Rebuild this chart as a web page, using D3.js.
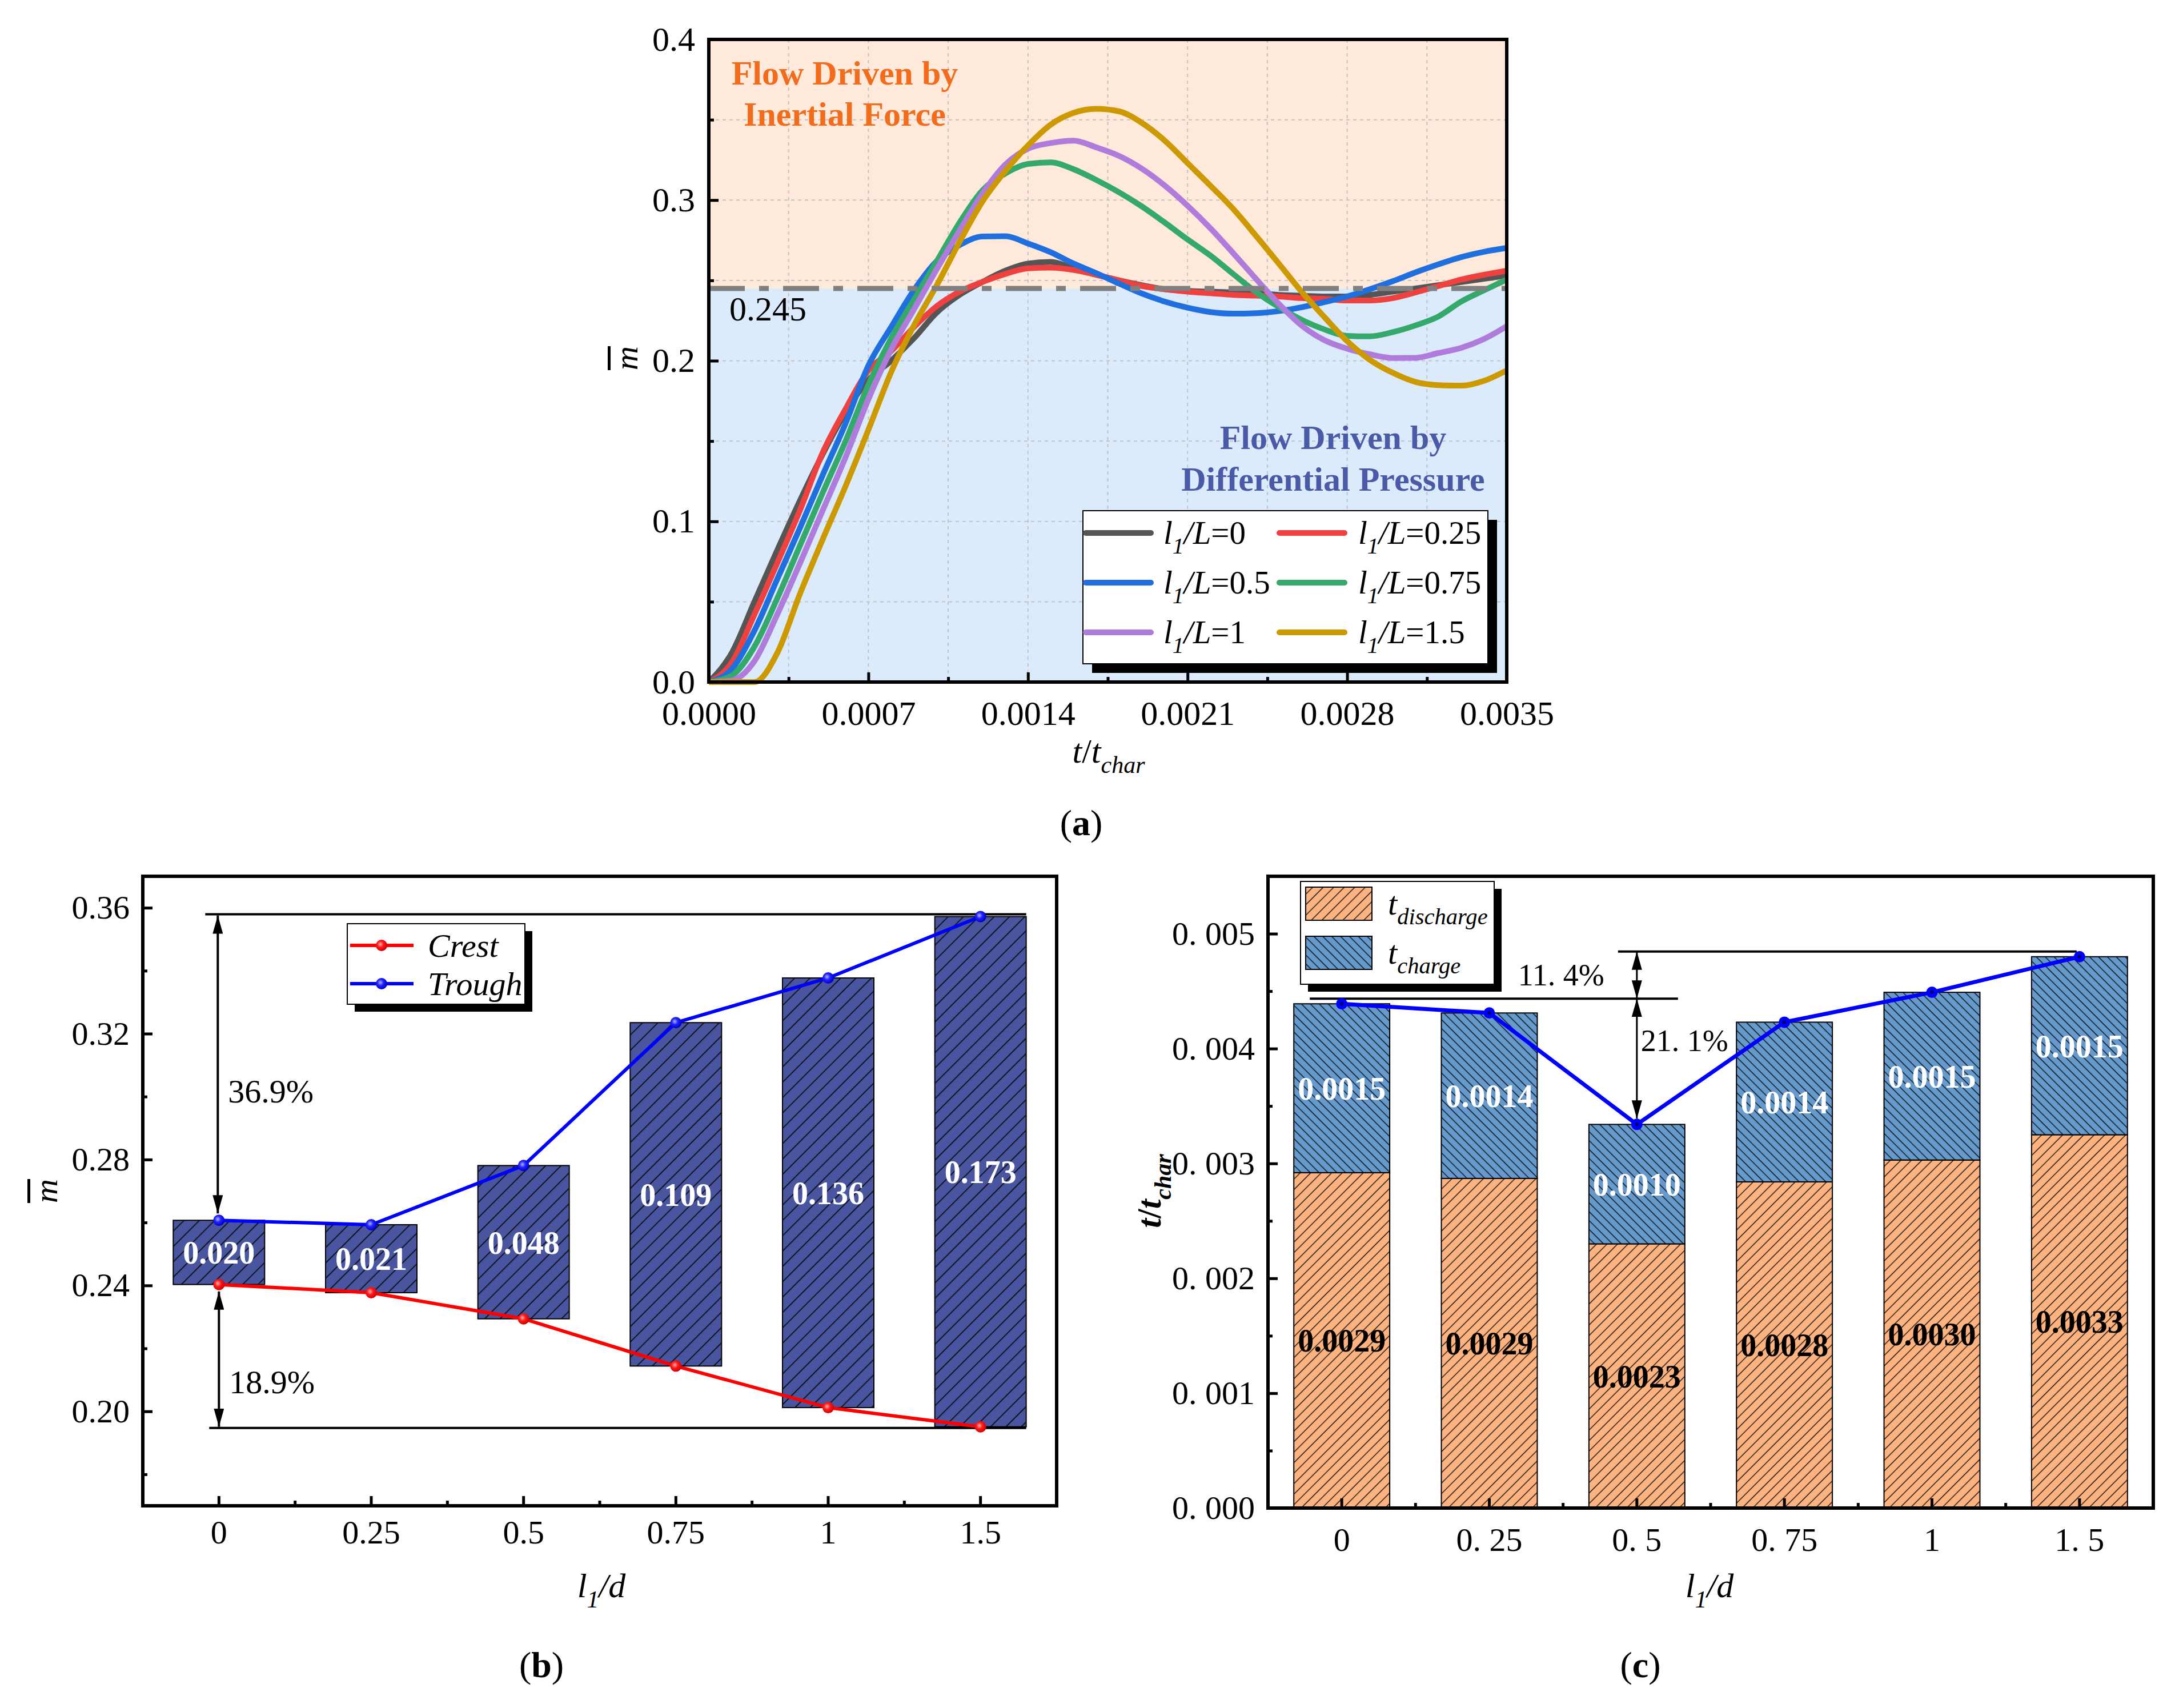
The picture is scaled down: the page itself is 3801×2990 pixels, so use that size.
<!DOCTYPE html>
<html>
<head>
<meta charset="utf-8">
<script src="https://cdn.jsdelivr.net/npm/d3@7"></script>
<style>
  body { margin: 0; background: #fff; }
</style>
</head>
<body>
<script>
// ---------- data: panel (a) ----------
const tValues = [0, 0.0001, 0.0002, 0.0003, 0.0004, 0.0005, 0.0006, 0.0007, 0.0008, 0.0009,
  0.0010, 0.0011, 0.0012, 0.0013, 0.0014, 0.0015, 0.0016, 0.0017, 0.0018, 0.0019,
  0.0020, 0.0021, 0.0022, 0.0023, 0.0024, 0.0025, 0.0026, 0.0027, 0.0028, 0.0029,
  0.0030, 0.0031, 0.0032, 0.0033, 0.0034, 0.0035];
const m_L0 = [0, 0.018, 0.05, 0.082, 0.113, 0.142, 0.168, 0.188, 0.200, 0.214, 0.230, 0.241, 0.249, 0.256, 0.2605, 0.2615,
  0.2575, 0.2535, 0.250, 0.247, 0.2445, 0.2435, 0.243, 0.2425, 0.242, 0.241, 0.2405, 0.240, 0.240, 0.241, 0.243, 0.245, 0.247, 0.249, 0.251, 0.253];
const m_L025 = [0, 0.012, 0.042, 0.074, 0.107, 0.143, 0.170, 0.194, 0.206, 0.221, 0.234, 0.243, 0.249, 0.254, 0.2575, 0.258,
  0.2565, 0.2535, 0.250, 0.2465, 0.2445, 0.243, 0.242, 0.241, 0.2405, 0.240, 0.239, 0.2385, 0.2375, 0.2375, 0.239, 0.2425, 0.2465, 0.2505, 0.2535, 0.256];
const m_L05 = [0, 0.008, 0.032, 0.064, 0.096, 0.129, 0.161, 0.197, 0.221, 0.244, 0.262, 0.272, 0.2773, 0.2775, 0.273, 0.2675,
  0.2605, 0.2545, 0.248, 0.2418, 0.2368, 0.233, 0.2303, 0.2293, 0.2296, 0.2309, 0.2333, 0.2365, 0.240, 0.2445, 0.2495, 0.255, 0.260, 0.2645, 0.2678, 0.2702];
const m_L075 = [0, 0.004, 0.022, 0.052, 0.085, 0.118, 0.150, 0.185, 0.214, 0.238, 0.262, 0.286, 0.306, 0.3165, 0.3225, 0.3235,
  0.3192, 0.3125, 0.3048, 0.296, 0.286, 0.2755, 0.2655, 0.254, 0.2428, 0.2335, 0.2255, 0.2195, 0.2155, 0.2152, 0.2178, 0.222, 0.2275, 0.2368, 0.2438, 0.2505];
const m_L1 = [0, 0.001, 0.013, 0.042, 0.074, 0.107, 0.140, 0.176, 0.207, 0.232, 0.257, 0.281, 0.304, 0.322, 0.332, 0.3355,
  0.3370, 0.3328, 0.3275, 0.3195, 0.309, 0.2965, 0.2825, 0.267, 0.251, 0.2355, 0.222, 0.2128, 0.2075, 0.204, 0.2017, 0.2018, 0.2048, 0.208, 0.2135, 0.2215];
const m_L15 = [0, 0, 0, 0.018, 0.055, 0.089, 0.122, 0.157, 0.193, 0.222, 0.247, 0.274, 0.299, 0.318, 0.334, 0.347,
  0.3543, 0.3568, 0.3552, 0.348, 0.337, 0.323, 0.309, 0.2945, 0.2778, 0.2605, 0.243, 0.2272, 0.2122, 0.2005, 0.1925, 0.1868, 0.1848, 0.1845, 0.1875, 0.194];
const aNames = ["0", "0.25", "0.5", "0.75", "1", "1.5"];
const aColors = ["#555555", "#f04141", "#1f6fdf", "#34a96b", "#b07cdc", "#cc9a00"];
const aXTicks = [0, 0.0007, 0.0014, 0.0021, 0.0028, 0.0035];
const aXMinor = [0.00035, 0.00105, 0.00175, 0.00245, 0.00315];
const aYTicks = [0, 0.1, 0.2, 0.3, 0.4];
const aYMinor = [0.05, 0.15, 0.25, 0.35];
const threshold = 0.245;

// ---------- data: panel (b) ----------
const cats = ["0", "0.25", "0.5", "0.75", "1", "1.5"];
const crest = [0.2403, 0.2377, 0.2294, 0.2144, 0.2012, 0.1951];
const trough = [0.2607, 0.2593, 0.2781, 0.3235, 0.3377, 0.3572];
const bLabels = ["0.020", "0.021", "0.048", "0.109", "0.136", "0.173"];
const bYTicks = [0.20, 0.24, 0.28, 0.32, 0.36];
const bYMinor = [0.18, 0.22, 0.26, 0.30, 0.34];
const bPct = ["36.9%", "18.9%"];

// ---------- data: panel (c) ----------
const tDischarge = [0.00292, 0.00287, 0.00230, 0.00284, 0.00303, 0.00325];
const tCharge = [0.00147, 0.00144, 0.00104, 0.00139, 0.00146, 0.00155];
const dischargeLabels = ["0.0029", "0.0029", "0.0023", "0.0028", "0.0030", "0.0033"];
const chargeLabels = ["0.0015", "0.0014", "0.0010", "0.0014", "0.0015", "0.0015"];
const cYTicks = [0, 0.001, 0.002, 0.003, 0.004, 0.005];
const cYMinor = [0.0005, 0.0015, 0.0025, 0.0035, 0.0045];
const cPct = ["11. 4%", "21. 1%"];

const serif = "'Liberation Serif', 'Times New Roman', serif";

const svg = d3.select("body").append("svg")
  .attr("width", 3801).attr("height", 2990)
  .style("font-family", serif);
const defs = svg.append("defs");

function hatch(id, bg, size, angle, sw) {
  const p = defs.append("pattern").attr("id", id)
    .attr("patternUnits", "userSpaceOnUse")
    .attr("width", size).attr("height", size)
    .attr("patternTransform", `rotate(${angle})`);
  p.append("rect").attr("width", size).attr("height", size).attr("fill", bg);
  p.append("line").attr("x1", size / 2).attr("x2", size / 2).attr("y1", 0).attr("y2", size)
    .attr("stroke", "#000").attr("stroke-width", sw);
}
hatch("hB", "#4a55a0", 19, 45, 1.6);
hatch("hD", "#fcb37f", 13, 45, 1.3);
hatch("hC", "#6699cc", 11, -45, 1.3);

function ball(id, light, mid, dark) {
  const g = defs.append("radialGradient").attr("id", id).attr("cx", "40%").attr("cy", "40%").attr("r", "60%");
  g.append("stop").attr("offset", "0%").attr("stop-color", light);
  g.append("stop").attr("offset", "45%").attr("stop-color", mid);
  g.append("stop").attr("offset", "100%").attr("stop-color", dark);
}
ball("ballR", "#ffb4b4", "#ff1c1c", "#d00000");
ball("ballB", "#b4b4ff", "#2222ff", "#0000c8");

defs.append("marker").attr("id", "arrow")
  .attr("viewBox", "0 0 32 18").attr("refX", 32).attr("refY", 9)
  .attr("markerWidth", 32).attr("markerHeight", 18)
  .attr("markerUnits", "userSpaceOnUse").attr("orient", "auto-start-reverse")
  .append("path").attr("d", "M0,0 L32,9 L0,18 Z").attr("fill", "#000");

// text with italic / subscript pieces
function rich(text, parts, size) {
  let shift = 0;
  parts.forEach(p => {
    const ts = text.append("tspan").text(p.t);
    if (p.i) ts.attr("font-style", "italic");
    if (p.b) ts.attr("font-weight", "bold");
    const target = p.sub ? size * 0.3 : 0;
    if (p.sub) ts.attr("font-size", size * 0.7);
    if (target !== shift) { ts.attr("dy", target - shift); shift = target; }
  });
  return text;
}

function styleAxis(g, size) {
  g.attr("font-family", serif).attr("font-size", size);
  g.select(".domain").remove();
  g.selectAll(".tick line").attr("stroke", "#000").attr("stroke-width", 5);
  g.selectAll(".tick text").attr("fill", "#000");
}

function mBar(x, y) {
  const g = svg.append("g").attr("transform", `translate(${x},${y}) rotate(-90)`);
  g.append("text").attr("text-anchor", "middle").attr("font-style", "italic")
    .attr("font-size", 58).text("m");
  g.append("rect").attr("x", -21).attr("y", -52).attr("width", 42).attr("height", 5).attr("fill", "#000");
}

function panelLabel(x, y, letter) {
  const t = svg.append("text").attr("x", x).attr("y", y).attr("text-anchor", "middle").attr("font-size", 64);
  t.append("tspan").text("(");
  t.append("tspan").attr("font-weight", "bold").text(letter);
  t.append("tspan").text(")");
}

function shadowBox(g, x0, y0, x1, y1, off) {
  g.append("rect").attr("x", x0 + off).attr("y", y0 + off).attr("width", x1 - x0).attr("height", y1 - y0).attr("fill", "#000");
  g.append("rect").attr("x", x0).attr("y", y0).attr("width", x1 - x0).attr("height", y1 - y0)
    .attr("fill", "#fff").attr("stroke", "#000").attr("stroke-width", 2);
}

// ================= panel (a) =================
const A = { l: 1241, r: 2638, t: 69, b: 1194 };
const xA = d3.scaleLinear().domain([0, 0.0035]).range([A.l, A.r]);
const yA = d3.scaleLinear().domain([0, 0.4]).range([A.b, A.t]);
const gA = svg.append("g");

gA.append("rect").attr("x", A.l).attr("y", yA(0.4)).attr("width", A.r - A.l)
  .attr("height", yA(threshold) - yA(0.4)).attr("fill", "#ffe9db");
gA.append("rect").attr("x", A.l).attr("y", yA(threshold)).attr("width", A.r - A.l)
  .attr("height", yA(0) - yA(threshold)).attr("fill", "#dbebfc");

gA.append("g").selectAll("line")
  .data(aXTicks.concat(aXMinor).filter(v => v > 0 && v < 0.0035))
  .join("line")
  .attr("x1", d => xA(d)).attr("x2", d => xA(d)).attr("y1", A.t).attr("y2", A.b)
  .attr("stroke", "#c4c4c4").attr("stroke-width", 2).attr("stroke-dasharray", "6,6");
gA.append("g").selectAll("line")
  .data(aYTicks.concat(aYMinor).filter(v => v > 0 && v < 0.4))
  .join("line")
  .attr("y1", d => yA(d)).attr("y2", d => yA(d)).attr("x1", A.l).attr("x2", A.r)
  .attr("stroke", "#c4c4c4").attr("stroke-width", 2).attr("stroke-dasharray", "6,6");

const aSeries = [m_L0, m_L025, m_L05, m_L075, m_L1, m_L15];
const lineA = d3.line().x((d, i) => xA(tValues[i])).y(d => yA(d)).curve(d3.curveMonotoneX);
aSeries.forEach((s, k) => {
  gA.append("path").attr("d", lineA(s)).attr("fill", "none")
    .attr("stroke", aColors[k]).attr("stroke-width", 10).attr("stroke-linejoin", "round");
});

gA.append("line").attr("x1", A.l).attr("x2", A.r).attr("y1", yA(threshold)).attr("y2", yA(threshold))
  .attr("stroke", "#808080").attr("stroke-width", 9).attr("stroke-dasharray", "63,25,17,25");
gA.append("text").attr("x", A.l + 36).attr("y", yA(threshold) + 56).attr("font-size", 60).text("0.245");

gA.append("text").attr("x", 1479).attr("y", 148).attr("text-anchor", "middle").attr("font-size", 60)
  .attr("font-weight", "bold").attr("fill", "#f26c1c").text("Flow Driven by");
gA.append("text").attr("x", 1479).attr("y", 220).attr("text-anchor", "middle").attr("font-size", 60)
  .attr("font-weight", "bold").attr("fill", "#f26c1c").text("Inertial Force");
gA.append("text").attr("x", 2334).attr("y", 786).attr("text-anchor", "middle").attr("font-size", 60)
  .attr("font-weight", "bold").attr("fill", "#4b5aa6").text("Flow Driven by");
gA.append("text").attr("x", 2334).attr("y", 859).attr("text-anchor", "middle").attr("font-size", 60)
  .attr("font-weight", "bold").attr("fill", "#4b5aa6").text("Differential Pressure");

// legend (a)
const legA = gA.append("g");
shadowBox(legA, 1896, 894, 2605, 1162, 16);
aNames.forEach((n, k) => {
  const col = k % 2, row = Math.floor(k / 2);
  const lx = [1901, 2240][col], tx = [2037, 2378][col], ry = 933 + row * 87;
  legA.append("line").attr("x1", lx).attr("x2", lx + 114).attr("y1", ry).attr("y2", ry)
    .attr("stroke", aColors[k]).attr("stroke-width", 10).attr("stroke-linecap", "round");
  rich(legA.append("text").attr("x", tx).attr("y", ry + 19).attr("font-size", 57),
    [{ t: "l", i: true }, { t: "1", i: true, sub: true }, { t: "/L", i: true }, { t: "=" + n }], 57);
});

gA.append("rect").attr("x", A.l).attr("y", A.t).attr("width", A.r - A.l).attr("height", A.b - A.t)
  .attr("fill", "none").attr("stroke", "#000").attr("stroke-width", 6);

const axAx = gA.append("g").attr("transform", `translate(0,${A.b})`)
  .call(d3.axisBottom(xA).tickValues(aXTicks).tickFormat(d3.format(".4f")).tickSize(-17).tickPadding(32));
styleAxis(axAx, 60);
const axAxm = gA.append("g").attr("transform", `translate(0,${A.b})`)
  .call(d3.axisBottom(xA).tickValues(aXMinor).tickFormat("").tickSize(-9));
styleAxis(axAxm, 60);
const axAy = gA.append("g").attr("transform", `translate(${A.l},0)`)
  .call(d3.axisLeft(yA).tickValues(aYTicks).tickFormat(d3.format(".1f")).tickSize(-17).tickPadding(24));
styleAxis(axAy, 60);
const axAym = gA.append("g").attr("transform", `translate(${A.l},0)`)
  .call(d3.axisLeft(yA).tickValues(aYMinor).tickFormat("").tickSize(-9));
styleAxis(axAym, 60);

rich(gA.append("text").attr("x", 1941).attr("y", 1335).attr("text-anchor", "middle").attr("font-size", 60),
  [{ t: "t", i: true }, { t: "/" }, { t: "t", i: true }, { t: "char", i: true, sub: true }], 60);
mBar(1116, 627);
panelLabel(1893, 1462, "a");

// ================= panel (b) =================
const B = { l: 250, r: 1850, t: 1534, b: 2636 };
const xB = d3.scaleBand().domain(cats).range([B.l, B.r]);
const yB = d3.scaleLinear().domain([0.17, 0.37]).range([B.b, B.t]);
const bwB = xB.bandwidth();
const cxB = c => xB(c) + bwB / 2;
const gB = svg.append("g");

const bRows = cats.map((c, i) => ({ cat: c, lo: crest[i], hi: trough[i], label: bLabels[i] }));
gB.selectAll("rect.bar").data(bRows).join("rect").attr("class", "bar")
  .attr("x", d => xB(d.cat) + bwB * 0.2).attr("width", bwB * 0.6)
  .attr("y", d => yB(d.hi)).attr("height", d => yB(d.lo) - yB(d.hi))
  .attr("fill", "url(#hB)").attr("stroke", "#000").attr("stroke-width", 2);
gB.selectAll("text.blab").data(bRows).join("text").attr("class", "blab")
  .attr("x", d => cxB(d.cat)).attr("y", d => (yB(d.hi) + yB(d.lo)) / 2 + 20)
  .attr("text-anchor", "middle").attr("font-size", 56).attr("font-weight", "bold").attr("fill", "#fff")
  .text(d => d.label);

// reference lines and arrows
const maxT = d3.max(trough), minC = d3.min(crest);
const x0B = cxB(cats[0]), xEndB = xB(cats[5]) + bwB * 0.8;
gB.append("line").attr("x1", x0B - 24).attr("x2", xEndB).attr("y1", yB(maxT) - 4).attr("y2", yB(maxT) - 4)
  .attr("stroke", "#000").attr("stroke-width", 4);
gB.append("line").attr("x1", x0B - 17).attr("x2", xEndB).attr("y1", yB(minC) + 2).attr("y2", yB(minC) + 2)
  .attr("stroke", "#000").attr("stroke-width", 4);
gB.append("line").attr("x1", x0B - 2).attr("x2", x0B - 2).attr("y1", yB(maxT) - 2).attr("y2", yB(trough[0]) - 12)
  .attr("stroke", "#000").attr("stroke-width", 4)
  .attr("marker-start", "url(#arrow)").attr("marker-end", "url(#arrow)");
gB.append("line").attr("x1", x0B).attr("x2", x0B).attr("y1", yB(crest[0]) + 12).attr("y2", yB(minC))
  .attr("stroke", "#000").attr("stroke-width", 4)
  .attr("marker-start", "url(#arrow)").attr("marker-end", "url(#arrow)");
gB.append("text").attr("x", x0B + 16).attr("y", yB((maxT + trough[0]) / 2) + 60).attr("font-size", 58).text(bPct[0]);
gB.append("text").attr("x", x0B + 18).attr("y", yB((minC + crest[0]) / 2) + 66).attr("font-size", 58).text(bPct[1]);

const lineB = d3.line().x((d, i) => cxB(cats[i])).y(d => yB(d));
gB.append("path").attr("d", lineB(crest)).attr("fill", "none").attr("stroke", "#ff0000").attr("stroke-width", 6);
gB.append("path").attr("d", lineB(trough)).attr("fill", "none").attr("stroke", "#0000ff").attr("stroke-width", 6);
gB.selectAll("circle.cr").data(crest).join("circle").attr("class", "cr")
  .attr("cx", (d, i) => cxB(cats[i])).attr("cy", d => yB(d)).attr("r", 10).attr("fill", "url(#ballR)");
gB.selectAll("circle.tr").data(trough).join("circle").attr("class", "tr")
  .attr("cx", (d, i) => cxB(cats[i])).attr("cy", d => yB(d)).attr("r", 10).attr("fill", "url(#ballB)");

// legend (b)
const legB = gB.append("g");
shadowBox(legB, 608, 1617, 919, 1758, 13);
[["Crest", "#ff0000", "url(#ballR)", 1655], ["Trough", "#0000ff", "url(#ballB)", 1722]].forEach(r => {
  legB.append("line").attr("x1", 613).attr("x2", 724).attr("y1", r[3]).attr("y2", r[3])
    .attr("stroke", r[1]).attr("stroke-width", 6);
  legB.append("circle").attr("cx", 668).attr("cy", r[3]).attr("r", 10).attr("fill", r[2]);
  legB.append("text").attr("x", 749).attr("y", r[3] + 20).attr("font-size", 58).attr("font-style", "italic").text(r[0]);
});

gB.append("rect").attr("x", B.l).attr("y", B.t).attr("width", B.r - B.l).attr("height", B.b - B.t)
  .attr("fill", "none").attr("stroke", "#000").attr("stroke-width", 6);
const axBx = gB.append("g").attr("transform", `translate(0,${B.b})`)
  .call(d3.axisBottom(xB).tickSize(-17).tickPadding(25));
styleAxis(axBx, 58);
gB.append("g").selectAll("line").data(cats.slice(1)).join("line")
  .attr("x1", d => xB(d)).attr("x2", d => xB(d)).attr("y1", B.b).attr("y2", B.b - 9)
  .attr("stroke", "#000").attr("stroke-width", 5);
const axBy = gB.append("g").attr("transform", `translate(${B.l},0)`)
  .call(d3.axisLeft(yB).tickValues(bYTicks).tickFormat(d3.format(".2f")).tickSize(-17).tickPadding(23));
styleAxis(axBy, 58);
const axBym = gB.append("g").attr("transform", `translate(${B.l},0)`)
  .call(d3.axisLeft(yB).tickValues(bYMinor).tickFormat("").tickSize(-8));
styleAxis(axBym, 58);

rich(gB.append("text").attr("x", 1053).attr("y", 2796).attr("text-anchor", "middle").attr("font-size", 60),
  [{ t: "l", i: true }, { t: "1", i: true, sub: true }, { t: "/d", i: true }], 60);
mBar(100, 2085);
panelLabel(948, 2936, "b");

// ================= panel (c) =================
const C = { l: 2220, r: 3770, t: 1534, b: 2640 };
const xC = d3.scaleBand().domain(cats).range([C.l, C.r]);
const yC = d3.scaleLinear().domain([0, 0.0055]).range([C.b, C.t]);
const bwC = xC.bandwidth();
const cxC = c => xC(c) + bwC / 2;
const gC = svg.append("g");

const cTable = cats.map((c, i) => ({ cat: c, discharge: tDischarge[i], charge: tCharge[i] }));
const stacked = d3.stack().keys(["discharge", "charge"])(cTable);
const cFill = { discharge: "url(#hD)", charge: "url(#hC)" };
stacked.forEach(layer => {
  gC.selectAll("rect." + layer.key).data(layer).join("rect").attr("class", layer.key)
    .attr("x", d => xC(d.data.cat) + bwC * 0.175).attr("width", bwC * 0.65)
    .attr("y", d => yC(d[1])).attr("height", d => yC(d[0]) - yC(d[1]))
    .attr("fill", cFill[layer.key]).attr("stroke", "#000").attr("stroke-width", 2);
});
const totals = cTable.map(d => d.discharge + d.charge);
gC.selectAll("text.dlab").data(stacked[0]).join("text").attr("class", "dlab")
  .attr("x", d => cxC(d.data.cat)).attr("y", d => (yC(d[0]) + yC(d[1])) / 2 + 20)
  .attr("text-anchor", "middle").attr("font-size", 56).attr("font-weight", "bold").attr("fill", "#000")
  .text((d, i) => dischargeLabels[i]);
gC.selectAll("text.clab").data(stacked[1]).join("text").attr("class", "clab")
  .attr("x", d => cxC(d.data.cat)).attr("y", d => (yC(d[0]) + yC(d[1])) / 2 + 20)
  .attr("text-anchor", "middle").attr("font-size", 56).attr("font-weight", "bold").attr("fill", "#fff")
  .text((d, i) => chargeLabels[i]);

// reference lines and arrows
const xMid = cxC(cats[2]);
const upY = yC(d3.max(totals)) - 9, loY = yC(totals[0]) - 9;
gC.append("line").attr("x1", xMid - 33).attr("x2", cxC(cats[5]) - 5).attr("y1", upY).attr("y2", upY)
  .attr("stroke", "#000").attr("stroke-width", 4);
gC.append("line").attr("x1", cxC(cats[0]) - 56).attr("x2", xMid + 72).attr("y1", loY).attr("y2", loY)
  .attr("stroke", "#000").attr("stroke-width", 4);
gC.append("line").attr("x1", xMid).attr("x2", xMid).attr("y1", upY).attr("y2", loY)
  .attr("stroke", "#000").attr("stroke-width", 3)
  .attr("marker-start", "url(#arrow)").attr("marker-end", "url(#arrow)");
gC.append("line").attr("x1", xMid).attr("x2", xMid).attr("y1", loY).attr("y2", yC(totals[2]) - 10)
  .attr("stroke", "#000").attr("stroke-width", 3)
  .attr("marker-start", "url(#arrow)").attr("marker-end", "url(#arrow)");
gC.append("text").attr("x", xMid - 57).attr("y", (upY + loY) / 2 + 18).attr("text-anchor", "end")
  .attr("font-size", 54).text(cPct[0]);
gC.append("text").attr("x", xMid + 7).attr("y", loY + 92).attr("font-size", 54).text(cPct[1]);

const lineC = d3.line().x((d, i) => cxC(cats[i])).y(d => yC(d));
gC.append("path").attr("d", lineC(totals)).attr("fill", "none").attr("stroke", "#0000ff").attr("stroke-width", 7);
gC.selectAll("circle.tot").data(totals).join("circle").attr("class", "tot")
  .attr("cx", (d, i) => cxC(cats[i])).attr("cy", d => yC(d)).attr("r", 10).attr("fill", "#0000ff");
gC.selectAll("circle.totc").data(totals).join("circle").attr("class", "totc")
  .attr("cx", (d, i) => cxC(cats[i])).attr("cy", d => yC(d)).attr("r", 3).attr("fill", "#000050");

// legend (c)
const legC = gC.append("g");
shadowBox(legC, 2277, 1543, 2616, 1723, 13);
[["discharge", "url(#hD)", 1553], ["charge", "url(#hC)", 1639]].forEach(r => {
  legC.append("rect").attr("x", 2286).attr("y", r[2]).attr("width", 116).attr("height", 58)
    .attr("fill", r[1]).attr("stroke", "#000").attr("stroke-width", 2);
  rich(legC.append("text").attr("x", 2430).attr("y", r[2] + 48).attr("font-size", 58),
    [{ t: "t", i: true }, { t: r[0], i: true, sub: true }], 58);
});

gC.append("rect").attr("x", C.l).attr("y", C.t).attr("width", C.r - C.l).attr("height", C.b - C.t)
  .attr("fill", "none").attr("stroke", "#000").attr("stroke-width", 6);
const axCx = gC.append("g").attr("transform", `translate(0,${C.b})`)
  .call(d3.axisBottom(xC).tickFormat(d => d.replace(".", ". ")).tickSize(-17).tickPadding(34));
styleAxis(axCx, 58);
gC.append("g").selectAll("line").data(cats.slice(1)).join("line")
  .attr("x1", d => xC(d)).attr("x2", d => xC(d)).attr("y1", C.b).attr("y2", C.b - 9)
  .attr("stroke", "#000").attr("stroke-width", 5);
const axCy = gC.append("g").attr("transform", `translate(${C.l},0)`)
  .call(d3.axisLeft(yC).tickValues(cYTicks).tickFormat(d => d3.format(".3f")(d).replace(".", ". "))
    .tickSize(-17).tickPadding(23));
styleAxis(axCy, 58);
const axCym = gC.append("g").attr("transform", `translate(${C.l},0)`)
  .call(d3.axisLeft(yC).tickValues(cYMinor).tickFormat("").tickSize(-8));
styleAxis(axCym, 58);

rich(gC.append("text").attr("x", 2993).attr("y", 2796).attr("text-anchor", "middle").attr("font-size", 60),
  [{ t: "l", i: true }, { t: "1", i: true, sub: true }, { t: "/d", i: true }], 60);
rich(gC.append("text").attr("transform", "translate(2032,2085) rotate(-90)").attr("text-anchor", "middle")
  .attr("font-size", 60).attr("font-weight", "bold"),
  [{ t: "t", i: true }, { t: "/" }, { t: "t", i: true }, { t: "char", i: true, sub: true }], 60);
panelLabel(2872, 2936, "c");
</script>
</body>
</html>
